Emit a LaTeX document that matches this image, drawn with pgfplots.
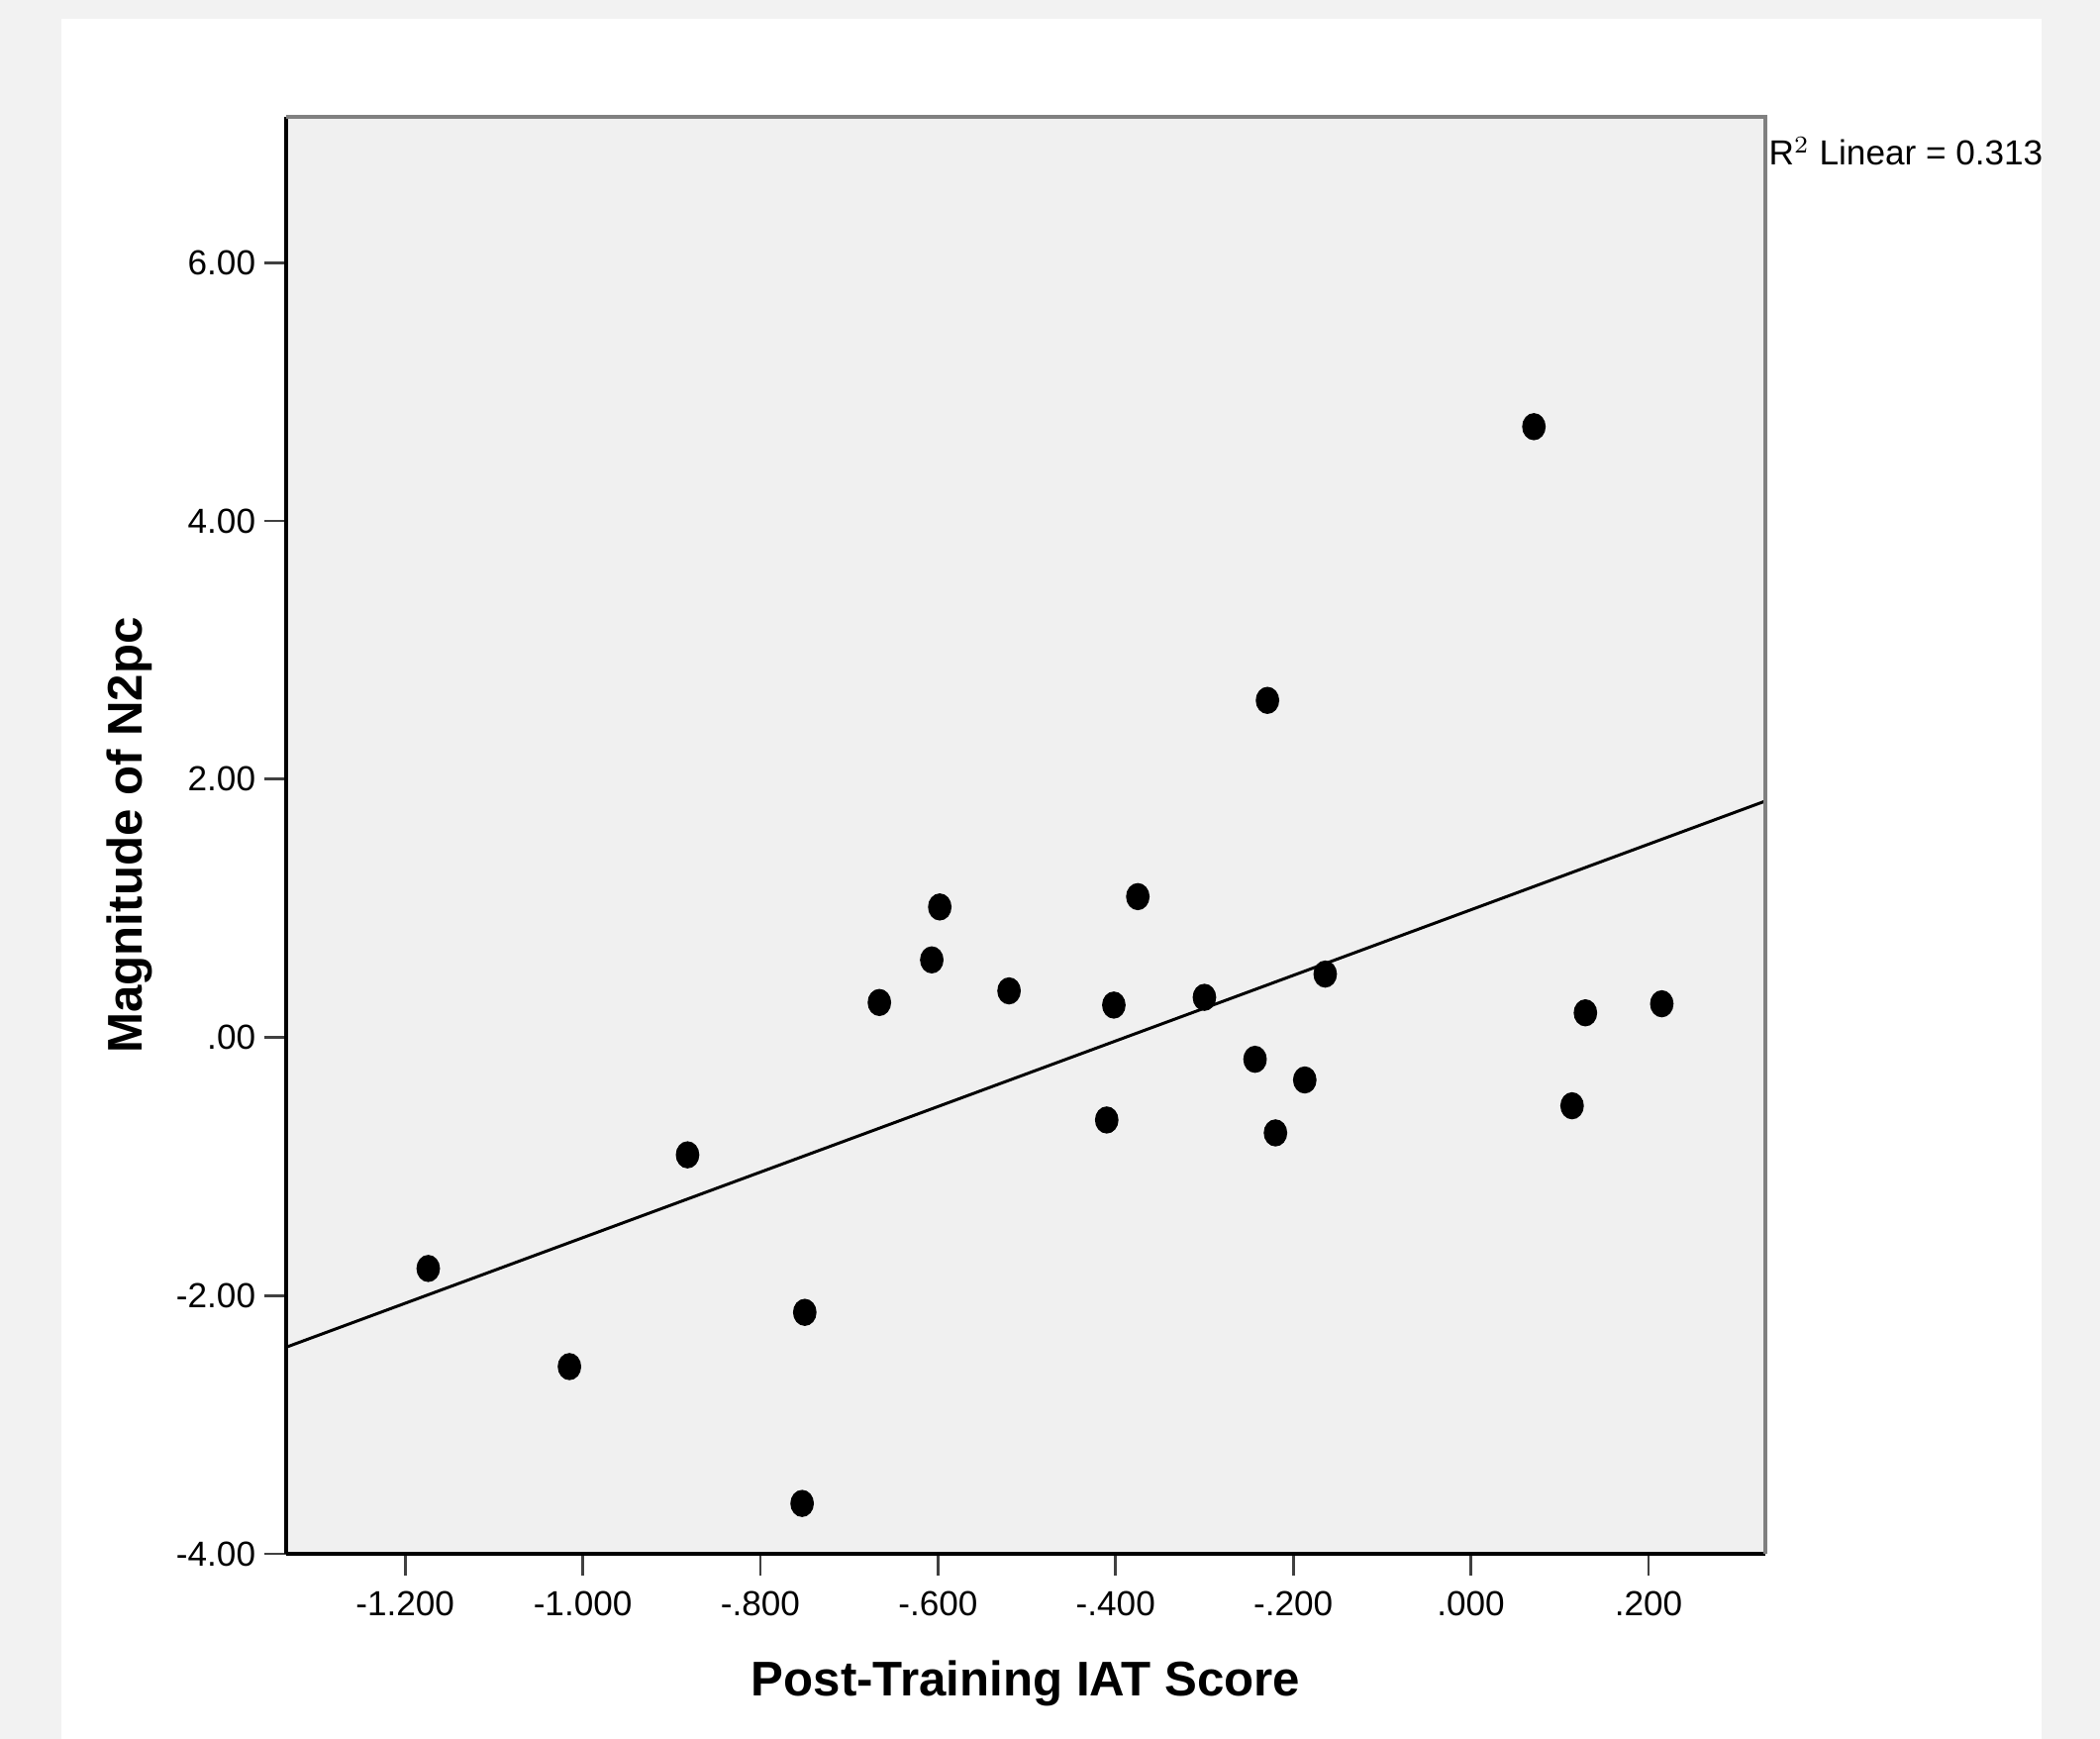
\documentclass[border=0pt]{standalone}
\usepackage{pgfplots}
\pgfplotsset{compat=1.18}
\usepackage{fontspec}
\setmainfont{Liberation Sans}
\definecolor{outergray}{HTML}{F2F2F2}
\definecolor{plotbg}{HTML}{F0F0F0}
\definecolor{framegray}{HTML}{808080}
\begin{document}
\begin{tikzpicture}
% page background: gray margin and white panel (1 px = 0.01 cm, origin at axis corner)
\fill[outergray] (-2.89cm,-1.87cm) rectangle (18.32cm,15.69cm);
\fill[white] (-2.27cm,-1.87cm) rectangle (17.73cm,15.50cm);
\begin{axis}[
  name=ax,
  at={(0,0)}, anchor=south west,
  scale only axis,
  width=14.94cm, height=14.51cm,
  xmin=-1.334, xmax=0.3316,
  ymin=-4, ymax=7.13,
  axis background/.style={fill=plotbg},
  axis x line=bottom, axis y line=left,
  axis line style={-, black, line width=0.9pt},
  tick align=outside,
  major tick length=0.22cm,
  tick style={black!75, line width=0.8pt},
  xtick={-1.2,-1.0,-0.8,-0.6,-0.4,-0.2,0,0.2},
  xticklabels={-1.200,-1.000,-.800,-.600,-.400,-.200,.000,.200},
  ytick={-4,-2,0,2,4,6},
  yticklabels={-4.00,-2.00,.00,2.00,4.00,6.00},
  ticklabel style={font=\fontsize{10}{12}\selectfont},
  xticklabel style={yshift=-1pt},
  yticklabel style={xshift=1pt},
  xlabel={Post-Training IAT Score},
  ylabel={Magnitude of N2pc},
  label style={font=\fontsize{14}{16}\selectfont\bfseries},
  xlabel style={at={(rel axis cs:0.5,0)}, anchor=center, yshift=-1.31cm},
  ylabel style={at={(rel axis cs:0,0.5)}, anchor=center, yshift=1.58cm},
  clip=false,
]
\addplot[only marks, mark=*, mark size=3.7pt, mark options={fill=black, draw=black, xscale=0.86}]
  coordinates {
  (-1.174,-1.79) (-1.015,-2.55) (-0.882,-0.91) (-0.750,-2.13) (-0.753,-3.61)
  (-0.666,0.27) (-0.607,0.60) (-0.598,1.01) (-0.520,0.36) (-0.410,-0.64)
  (-0.402,0.25) (-0.375,1.09) (-0.300,0.31) (-0.229,2.61) (-0.243,-0.17)
  (-0.220,-0.74) (-0.187,-0.33) (-0.164,0.49) (0.071,4.73) (0.114,-0.53)
  (0.129,0.19) (0.215,0.26)
  };
% fit line, R^2 = 0.313
\addplot[black, line width=0.85pt] coordinates {(-1.334,-2.40) (0.3316,1.83)};
\draw[framegray, line width=0.9pt] (rel axis cs:0,1) -- (rel axis cs:1,1) -- (rel axis cs:1,0);
\end{axis}
\node[anchor=base west, inner sep=0pt, font=\fontsize{10}{12}\selectfont]
  at ([xshift=0.03cm, yshift=-0.49cm]ax.north east) {R$^{2}$ Linear = 0.313};
\end{tikzpicture}
\end{document}
